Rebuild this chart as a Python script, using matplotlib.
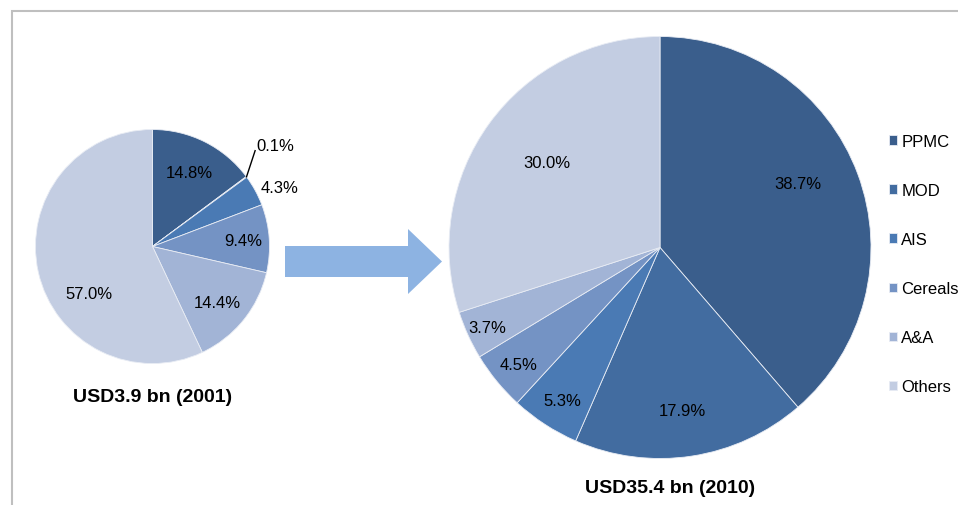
import numpy as np
import matplotlib
matplotlib.use('Agg')
import matplotlib.pyplot as plt
from matplotlib.patches import FancyArrow, Rectangle

plt.rcParams['font.family'] = ['Liberation Sans', 'DejaVu Sans']

categories = ['PPMC', 'MOD', 'AIS', 'Cereals', 'A&A', 'Others']
share_2001 = [14.8, 0.1, 4.3, 9.4, 14.4, 57.0]
share_2010 = [38.7, 17.9, 5.3, 4.5, 3.7, 30.0]
title_2001 = 'USD3.9 bn (2001)'
title_2010 = 'USD35.4 bn (2010)'

colors = ['#3A5E8C', '#426CA0', '#4A7AB4', '#7493C4', '#A2B4D6', '#C3CDE2']

W, H = 958, 506
fig = plt.figure(figsize=(W / 100, H / 100), dpi=100)
ax = fig.add_axes([0, 0, 1, 1])
ax.set_xlim(0, W)
ax.set_ylim(0, H)
ax.set_aspect('equal')
ax.axis('off')

# frame lines (top and left only visible)
ax.add_patch(Rectangle((11.5, -50), 1200, H - 11.5 + 50, fill=False,
                       edgecolor='#BFBFBF', linewidth=1.5))


def draw_pie(values, center, radius, dists, nudges, fmt='{:.1f}%'):
    wedges, _ = ax.pie(values, colors=colors, startangle=90, counterclock=False,
                       center=center, radius=radius, frame=True,
                       wedgeprops=dict(edgecolor='#E8ECF4', linewidth=0.6))
    for w, v, d, n in zip(wedges, values, dists, nudges):
        mid = np.deg2rad((w.theta1 + w.theta2) / 2 + n)
        x = center[0] + d * radius * np.cos(mid)
        y = center[1] + d * radius * np.sin(mid)
        ax.text(x, y, fmt.format(v), ha='center', va='center', fontsize=12)
    return wedges


c1, r1 = (152.5, H - 247.5), 117
c2, r2 = (660, H - 248.5), 211

w1 = draw_pie(share_2001, c1, r1,
              [0.71, 0, 1.2, 0.78, 0.73, 0.68], [0, 0, -3.6, 0, -2, 24])
# remove the auto label of the tiny slice and use a leader line instead
for t in ax.texts[-6:]:
    if t.get_text() == '0.1%':
        t.remove()
tiny = w1[1]
ang = np.deg2rad((tiny.theta1 + tiny.theta2) / 2)
p0 = (c1[0] + r1 * np.cos(ang), c1[1] + r1 * np.sin(ang))
ang2 = ang + np.deg2rad(6.5)
p1 = (c1[0] + 1.2 * r1 * np.cos(ang2), c1[1] + 1.2 * r1 * np.sin(ang2))
ax.plot([p0[0], p1[0]], [p0[1], p1[1]], color='black', linewidth=1)
ax.text(p1[0] + 1, p1[1] + 5, '0.1%', ha='left', va='center', fontsize=12)

w2 = draw_pie(share_2010, c2, r2,
              [0.72, 0.78, 0.86, 0.87, 0.9, 0.67], [4.6, -0.9, 0.7, 0.2, 0.3, -0.7])

ax.set_xlim(0, W)
ax.set_ylim(0, H)

ax.text(c1[0], H - 397, title_2001, ha='center', va='center',
        fontsize=14, fontweight='bold')
ax.text(c2[0] + 10, H - 489, title_2010, ha='center', va='center',
        fontsize=14, fontweight='bold')

ax.add_patch(FancyArrow(285, H - 262.5, 157, 0, width=31, head_width=65,
                        head_length=34, length_includes_head=True,
                        color='#8DB3E2', linewidth=0))

fig.legend(w2, categories, loc='upper left', bbox_to_anchor=(882 / W, 1 - 128 / H),
           frameon=False, fontsize=12, handlelength=0.5, handleheight=0.5,
           handletextpad=0.25, labelspacing=2.05, borderaxespad=0)

fig.savefig('out.png', dpi=100)
